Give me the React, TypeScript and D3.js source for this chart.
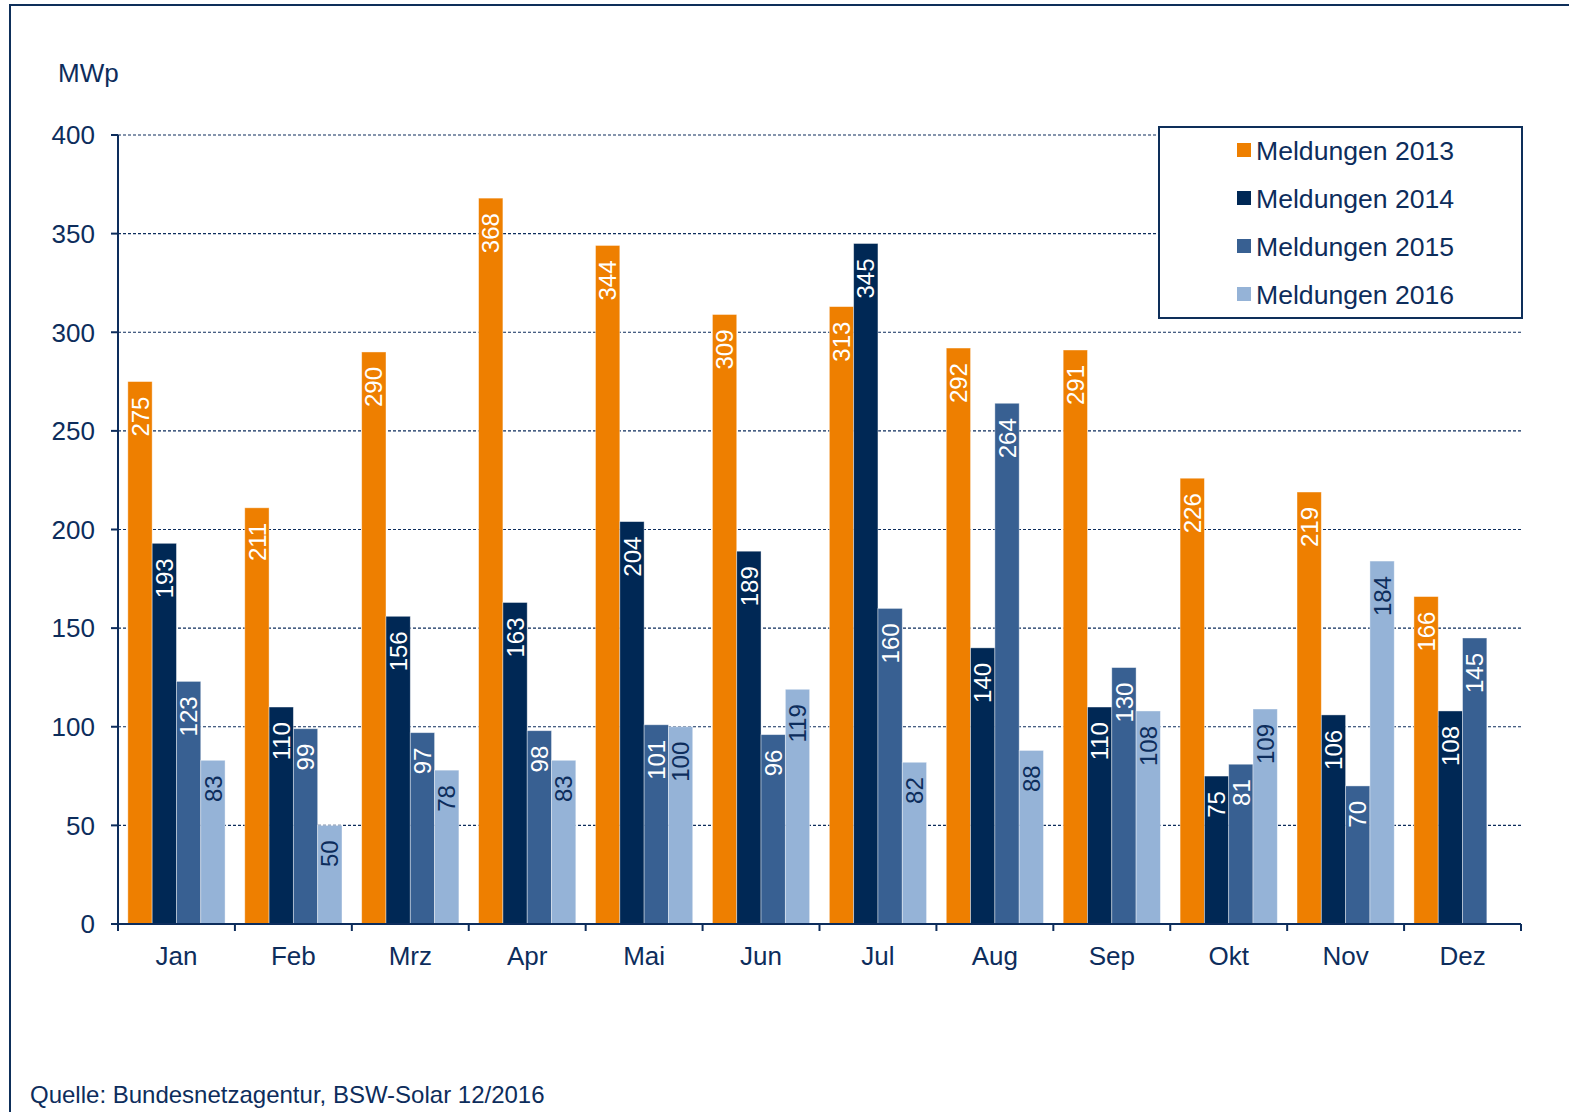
import React from "react";
import * as d3 from "d3";

const months = ["Jan", "Feb", "Mrz", "Apr", "Mai", "Jun", "Jul", "Aug", "Sep", "Okt", "Nov", "Dez"];
const seriesNames = ["Meldungen 2013", "Meldungen 2014", "Meldungen 2015", "Meldungen 2016"];
const v2013 = [275, 211, 290, 368, 344, 309, 313, 292, 291, 226, 219, 166];
const v2014 = [193, 110, 156, 163, 204, 189, 345, 140, 110, 75, 106, 108];
const v2015 = [123, 99, 97, 98, 101, 96, 160, 264, 130, 81, 70, 145];
const v2016: (number | null)[] = [83, 50, 78, 83, 100, 119, 82, 88, 108, 109, 184, null];
const yTicks = [0, 50, 100, 150, 200, 250, 300, 350, 400];

const colors = ["#EE7F00", "#002855", "#386092", "#95B3D7"];
const labelColors = ["#ffffff", "#ffffff", "#ffffff", "#0D2D5C"];
const navy = "#0D2D5C";
const font = "'Liberation Sans', Arial, Helvetica, sans-serif";

export default function App() {
  const W = 1569, H = 1112;
  const left = 118, right = 1521, top = 135, bottom = 924;
  const series = [v2013, v2014, v2015, v2016];

  const x = d3.scaleBand<string>().domain(months).range([left, right]).paddingInner(0).paddingOuter(0);
  const inner = d3.scaleBand<number>().domain([0, 1, 2, 3]).range([0, x.bandwidth()]).paddingOuter(0.405).paddingInner(0);
  const y = d3.scaleLinear().domain([0, 400]).range([bottom, top]);

  const bw = inner.bandwidth();

  return (
    <svg width={W} height={H} style={{ position: "absolute", left: 0, top: 0, background: "#fff" }} fontFamily={font}>
      <rect x={10} y={5} width={W + 50} height={H + 50} fill="#fff" stroke="#0E2F5A" strokeWidth={2} />
      <text x={58} y={82} fontSize={26} fill={navy}>MWp</text>

      {/* grid */}
      {yTicks.filter(t => t > 0).map(t => (
        <line key={"g" + t} x1={left} x2={right} y1={y(t)} y2={y(t)} stroke={navy} strokeWidth={1.2} strokeDasharray="3,2" />
      ))}

      {/* bars */}
      {months.map((m, i) => (
        <g key={m}>
          {series.map((s, k) => {
            const v = s[i];
            if (v == null) return null;
            const bx = (x(m) as number) + (inner(k) as number);
            return (
              <rect key={k} x={bx} y={y(v)} width={bw} height={bottom - y(v)} fill={colors[k]} stroke="#ffffff" strokeOpacity={0.5} strokeWidth={0.8} />
            );
          })}
        </g>
      ))}

      {/* labels */}
      {months.map((m, i) => (
        <g key={"l" + m}>
          {series.map((s, k) => {
            const v = s[i];
            if (v == null) return null;
            const cx = (x(m) as number) + (inner(k) as number) + bw / 2;
            const ty = y(v) + 15;
            return (
              <text key={k} transform={`translate(${cx},${ty}) rotate(-90)`} textAnchor="end" dy="0.36em" fontSize={24} fill={labelColors[k]}>
                {v}
              </text>
            );
          })}
        </g>
      ))}

      {/* y axis */}
      <line x1={left} x2={left} y1={top} y2={bottom} stroke={navy} strokeWidth={2} />
      {yTicks.map(t => (
        <g key={"y" + t}>
          <line x1={left - 7} x2={left} y1={y(t)} y2={y(t)} stroke={navy} strokeWidth={2} />
          <text x={95} y={y(t)} dy="0.36em" textAnchor="end" fontSize={26} fill={navy}>{t}</text>
        </g>
      ))}

      {/* x axis */}
      <line x1={left - 7} x2={right} y1={bottom} y2={bottom} stroke={navy} strokeWidth={2} />
      {[...months.map(m => x(m) as number), right].map((tx, i) => (
        <line key={"xt" + i} x1={tx} x2={tx} y1={bottom} y2={bottom + 7} stroke={navy} strokeWidth={2} />
      ))}
      {months.map(m => (
        <text key={"xl" + m} x={(x(m) as number) + x.bandwidth() / 2} y={965} textAnchor="middle" fontSize={26} fill={navy}>{m}</text>
      ))}

      {/* legend */}
      <rect x={1159} y={127} width={363} height={191} fill="#fff" stroke="#0E2F5A" strokeWidth={2} />
      {seriesNames.map((n, k) => (
        <g key={n}>
          <rect x={1237} y={143 + k * 48} width={14} height={14} fill={colors[k]} />
          <text x={1256} y={150 + k * 48} dy="0.36em" fontSize={26.6} fill={navy}>{n}</text>
        </g>
      ))}

      <text x={30} y={1103} fontSize={24} fill={navy}>Quelle: Bundesnetzagentur, BSW-Solar 12/2016</text>
    </svg>
  );
}
